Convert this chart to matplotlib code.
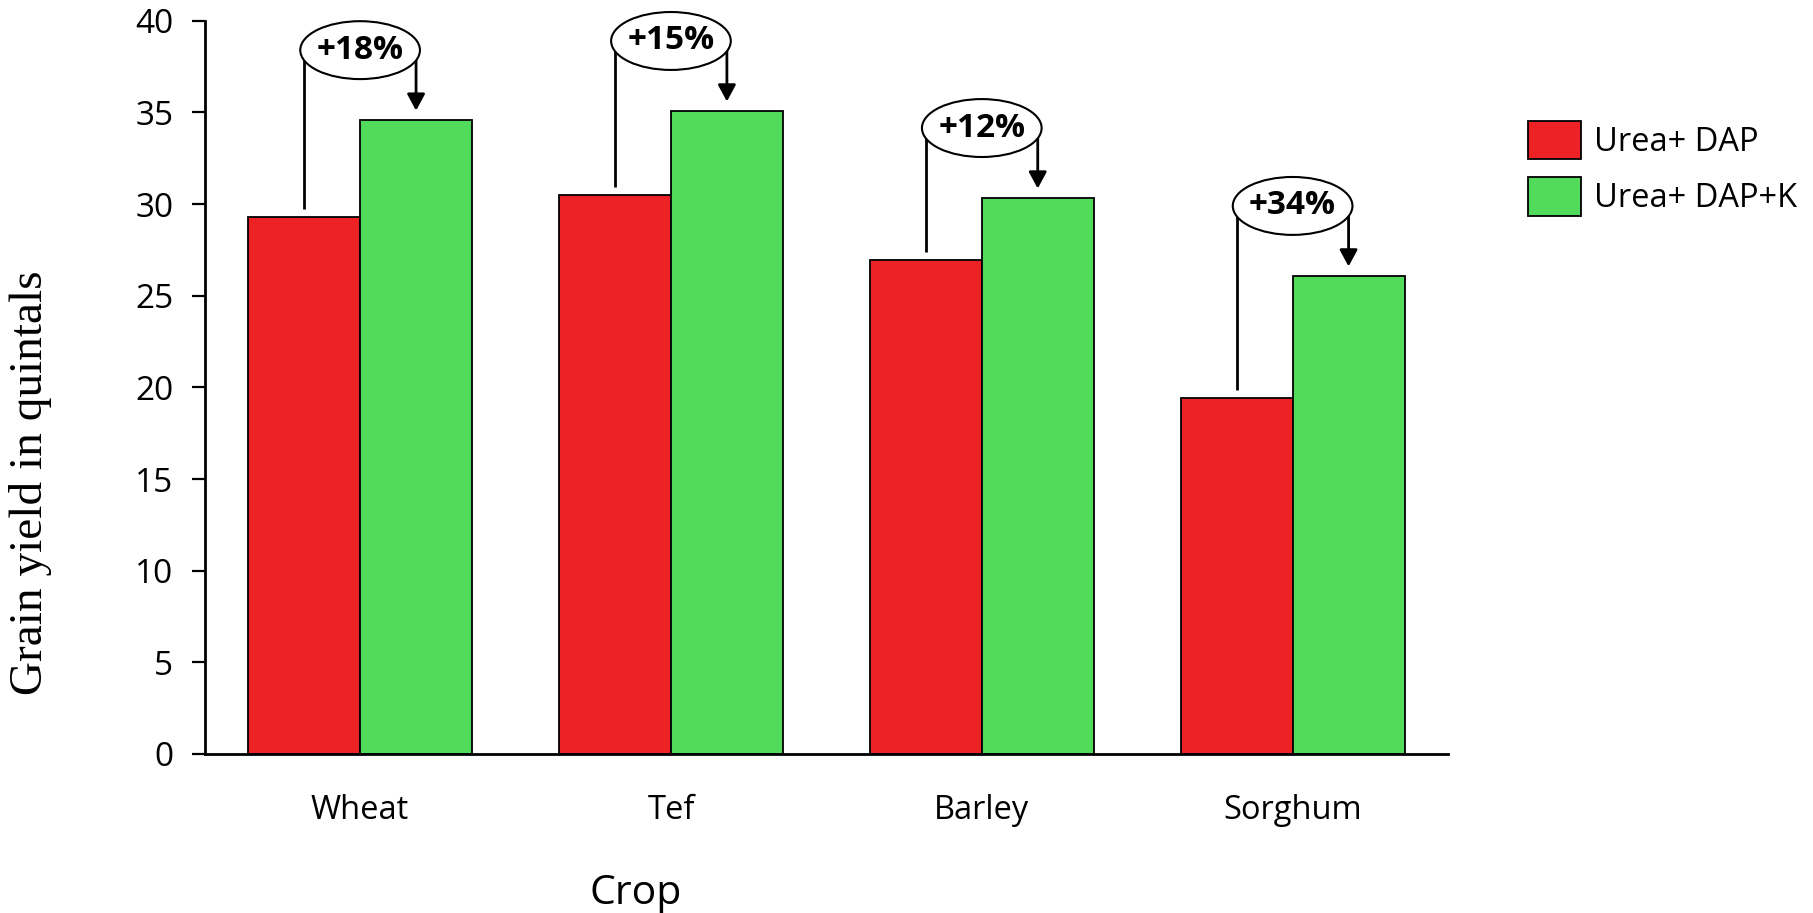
import numpy as np
import matplotlib.pyplot as plt
from matplotlib.patches import Ellipse

# Data
crops = ["Wheat", "Tef", "Barley", "Sorghum"]
urea_dap = [29.3, 30.5, 26.95, 19.4]
urea_dap_k = [34.6, 35.1, 30.35, 26.1]
gains = ["+18%", "+15%", "+12%", "+34%"]
series_names = ["Urea+ DAP", "Urea+ DAP+K"]
yticks = [0, 5, 10, 15, 20, 25, 30, 35, 40]

red = "#EC2224"
green = "#52DB5A"
sans = ["Open Sans", "DejaVu Sans"]

fig = plt.figure(figsize=(18.13, 9.13), dpi=100)
ax = fig.add_axes([0.1129, 0.1742, 0.6858, 0.803])

x = np.arange(len(crops))
w = 0.36
b1 = ax.bar(x - w / 2, urea_dap, w, color=red, edgecolor="black", linewidth=1.3,
            label=series_names[0], zorder=2)
b2 = ax.bar(x + w / 2, urea_dap_k, w, color=green, edgecolor="black", linewidth=1.3,
            label=series_names[1], zorder=2)

# percentage call-outs: ellipse above the pair, line from red bar, arrow into green bar
for xi, r, g, txt in zip(x, urea_dap, urea_dap_k, gains):
    ey = g + 3.8
    ax.plot([xi - w / 2, xi - w / 2], [r + 0.45, ey], color="black", lw=2.0,
            zorder=3, solid_capstyle="butt", clip_on=False)
    ax.annotate("", xy=(xi + w / 2, g + 0.5), xytext=(xi + w / 2, ey),
                arrowprops=dict(arrowstyle="-|>,head_length=0.5,head_width=0.27",
                                color="black", lw=2.0, shrinkA=0, shrinkB=0,
                                mutation_scale=20),
                zorder=3, annotation_clip=False)
    ax.add_patch(Ellipse((xi, ey), 0.385, 3.16, facecolor="white",
                         edgecolor="black", linewidth=1.5, zorder=4, clip_on=False))
    ax.text(xi, ey, txt, ha="center", va="center", fontsize=24,
            fontweight="bold", family=sans, zorder=5, clip_on=False)

ax.set_xlim(-0.5, 3.5)
ax.set_ylim(0, 40)
ax.set_yticks(yticks)
ax.set_xticks(x)
ax.set_xticklabels(crops, family=sans, fontsize=23.5)
ax.set_yticklabels([str(t) for t in yticks], family=sans, fontsize=24)
ax.tick_params(axis="y", direction="out", length=9.5, width=1.6, pad=13)
ax.tick_params(axis="x", length=0, pad=29)

for s in ["top", "right"]:
    ax.spines[s].set_visible(False)
for s in ["left", "bottom"]:
    ax.spines[s].set_linewidth(2.0)

fig.text(31 / 1813, 1 - 483 / 913, "Grain yield in quintals", rotation=90,
         ha="center", va="center", fontsize=34, family="Liberation Serif")
fig.text(636 / 1813, 1 - 904 / 913, "Crop", ha="center", va="baseline",
         fontsize=29.5, family=sans)

fig.legend(handles=[b1, b2], labels=series_names, loc="upper left",
           bbox_to_anchor=(0.843, 0.868), frameon=False, prop={"family": sans, "size": 23.5},
           handlelength=1.62, handleheight=1.45, handletextpad=0.4,
           labelspacing=0.55, borderpad=0, borderaxespad=0)

fig.savefig("out.png", dpi=100)
